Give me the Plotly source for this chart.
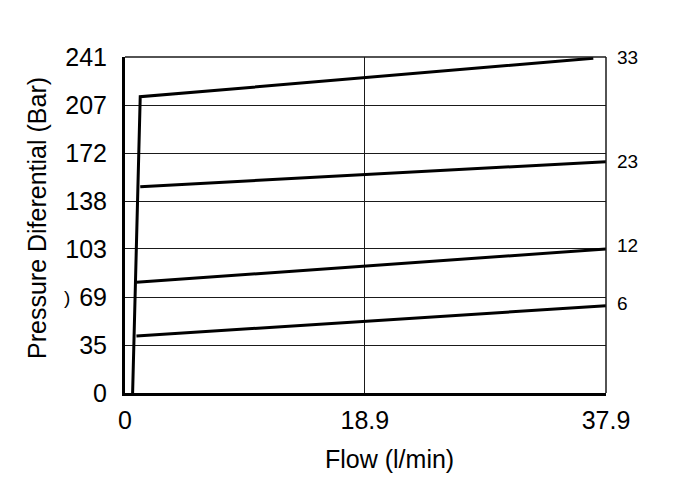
import plotly.graph_objects as go

# main relief curve (crack + full flow)
main_x = [0.6, 1.2, 36.9]
main_y = [0, 212.5, 240.1]

# lower setting lines: start x, start y, end y (end at 37.9)
set_start_x = [1.2, 0.9, 0.9]
set_start_y = [148, 79.4, 40.9]
set_end_y = [165.9, 103.3, 62.6]
x_end = 37.9

# labels on the right side
side_labels = ["33", "23", "12", "6"]
side_label_y = [240.8, 165.9, 105.5, 64.5]

y_tickvals = [0, 34.43, 68.86, 103.29, 137.71, 172.14, 206.57, 241]
y_ticktext = ["0", "35", "69", "103", "138", "172", "207", "241"]
x_tickvals = [0, 18.9, 37.9]
x_ticktext = ["0", "18.9", "37.9"]

FONT = "Liberation Sans, Arial, sans-serif"

# page body adds an 8px offset, so work in page pixels and shift
OFF = 8
W, H = 684 - 2 * OFF, 504 - 2 * OFF
L = 125 - OFF
T = 57 - OFF
R = W - (606 - OFF)
B = H - (393 - OFF)
pw, ph = W - L - R, H - T - B


def px_to_paper_x(px):
    return (px - OFF - L) / pw


def px_to_paper_y(py):
    return (H - (py - OFF) - B) / ph


fig = go.Figure()

fig.add_trace(go.Scatter(x=main_x, y=main_y, mode="lines",
                         line=dict(color="black", width=3), showlegend=False))
for sx, sy, ey in zip(set_start_x, set_start_y, set_end_y):
    fig.add_trace(go.Scatter(x=[sx, x_end], y=[sy, ey], mode="lines",
                             line=dict(color="black", width=3), showlegend=False))

annotations = []
for txt, yv in zip(side_labels, side_label_y):
    annotations.append(dict(x=1.0, xref="paper", y=yv, yref="y", text=txt,
                            showarrow=False, xanchor="left", yanchor="middle", xshift=9,
                            font=dict(size=19, color="black", family=FONT)))

# axis titles
annotations.append(dict(x=px_to_paper_x(389), xref="paper", y=px_to_paper_y(459), yref="paper",
                        text="Flow (l/min)", showarrow=False,
                        xanchor="center", yanchor="middle",
                        font=dict(size=25, color="black", family=FONT)))
annotations.append(dict(x=px_to_paper_x(37), xref="paper", y=px_to_paper_y(218), yref="paper",
                        text="Pressure Diferential (Bar)", textangle=-90,
                        showarrow=False, xanchor="center", yanchor="middle",
                        font=dict(size=25, color="black", family=FONT)))
# stray glyph left of the 69 label
annotations.append(dict(x=px_to_paper_x(67), xref="paper", y=68.86, yref="y", text=")",
                        showarrow=False, xanchor="center", yanchor="middle",
                        font=dict(size=19, color="black", family=FONT)))

# thin frame on the top and right edges
shapes = [
    dict(type="line", xref="paper", yref="paper", x0=0, x1=1, y0=1, y1=1,
         line=dict(color="#1a1a1a", width=1.5)),
    dict(type="line", xref="paper", yref="paper", x0=1, x1=1, y0=0, y1=1,
         line=dict(color="#1a1a1a", width=1.5)),
]

fig.update_layout(
    width=W, height=H,
    margin=dict(l=L, r=R, t=T, b=B, pad=0),
    plot_bgcolor="white", paper_bgcolor="white",
    font=dict(family=FONT, color="black", size=25),
    annotations=annotations,
    shapes=shapes,
    xaxis=dict(range=[0, 37.9], tickvals=x_tickvals, ticktext=x_ticktext,
               showgrid=True, gridcolor="#1a1a1a", gridwidth=1,
               showline=True, linecolor="black", linewidth=3,
               ticks="", ticklabelstandoff=3, zeroline=False,
               tickfont=dict(size=25)),
    yaxis=dict(range=[0, 241], tickvals=y_tickvals, ticktext=y_ticktext,
               showgrid=True, gridcolor="#1a1a1a", gridwidth=1,
               showline=True, linecolor="black", linewidth=3,
               ticks="", ticklabelstandoff=10, zeroline=False,
               tickfont=dict(size=25)),
)

fig.write_html("out.html")
